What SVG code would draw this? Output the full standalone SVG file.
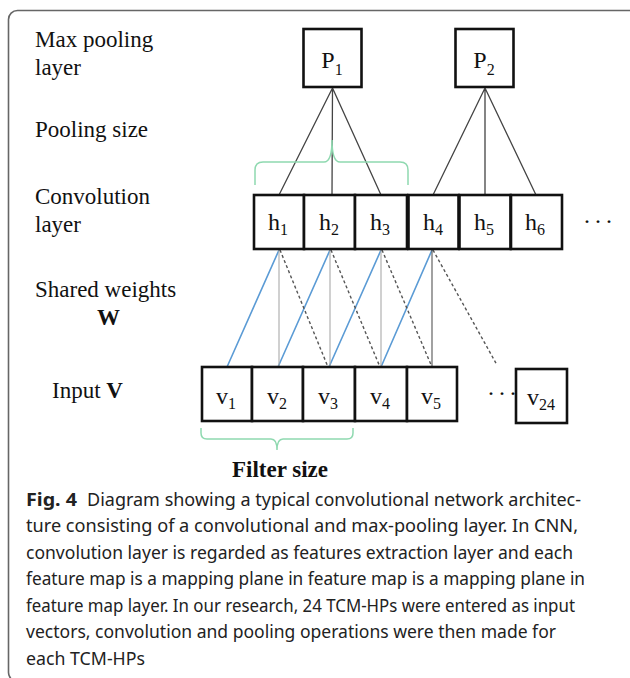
<svg xmlns="http://www.w3.org/2000/svg" width="630" height="678" viewBox="0 0 630 678">
<style>
.frame{fill:none;stroke:#666;stroke-width:1.6}
.lbl{font-family:"Liberation Serif","Times New Roman",serif;font-size:23px;fill:#111}
.bx{fill:#fff;stroke:#111;stroke-width:2.6}
.nt{font-family:"Liberation Serif","Times New Roman",serif;font-size:24px;fill:#111;text-anchor:middle}
.sub{font-size:16px}
.pool{stroke:#444;stroke-width:1.3;fill:none}
.blue{stroke:#5b9bd5;stroke-width:1.6;fill:none}
.vert{stroke:#aaa;stroke-width:1.1;fill:none}
.dash{stroke:#555;stroke-width:1.4;stroke-dasharray:3 2.5;fill:none}
.brace{stroke:#8fd9b0;stroke-width:1.5;fill:none}
.cap{font-family:"Noto Sans","Open Sans",sans-serif;font-size:17.5px;fill:#222}
.dots{font-family:"Liberation Serif",serif;font-size:24px;fill:#111;letter-spacing:3px}
</style>
<rect class="frame" x="8.5" y="10.5" width="660" height="671" rx="9"/>

<g id="labels">
<text class="lbl" x="35" y="47">Max pooling</text>
<text class="lbl" x="35" y="75">layer</text>
<text class="lbl" x="35" y="137">Pooling size</text>
<text class="lbl" x="35" y="204">Convolution</text>
<text class="lbl" x="35" y="232">layer</text>
<text class="lbl" x="35" y="297">Shared weights</text>
<text class="lbl" x="97" y="325" font-weight="bold">W</text>
<text class="lbl" x="52" y="398">Input <tspan font-weight="bold">V</tspan></text>
<text class="lbl" x="232" y="477" font-weight="bold">Filter size</text>
</g>

<g id="connectors">
<path class="pool" d="M332.5,88 L279,195 M332.5,88 L332,195 M332.5,88 L381,195"/>
<path class="pool" d="M485,88 L433,195 M485,88 L485,195 M485,88 L536,195"/>
<path class="blue" d="M279,250 L227,367 M330,250 L278,367 M381,250 L329,367 M432,250 L381,367"/>
<path class="vert" d="M279,250 L279,367 M330,250 L330,367 M381,250 L381,367"/>
<path class="vert" style="stroke:#555" d="M432,250 L432,367"/>
<path class="dash" d="M280,250 L328,367 M331,250 L380,367 M382,250 L432,367 M433,250 L497,365"/>
<path class="brace" d="M255,185 L255,170 Q255,162 263,162 L324,162 Q332,162 332,140 Q332,162 340,162 L400,162 Q408,162 408,170 L408,185"/>
<path class="brace" d="M201,428 L201,433 Q201,439 207,439 L271,439 Q277,439 277,450 Q277,439 283,439 L347,439 Q353,439 353,433 L353,428"/>
</g>

<g id="P1"><rect class="bx" x="303.5" y="29" width="58" height="58"/><text class="nt" x="332" y="68" font-size="27">P<tspan class="sub" font-size="17" dy="7">1</tspan></text></g>
<g id="P2"><rect class="bx" x="455.5" y="29" width="58" height="58"/><text class="nt" x="484" y="68" font-size="27">P<tspan class="sub" font-size="17" dy="7">2</tspan></text></g>

<g id="h1"><rect class="bx" x="254" y="195" width="50" height="54"/><text class="nt" x="278" y="230">h<tspan class="sub" dy="5">1</tspan></text></g>
<g id="h2"><rect class="bx" x="304" y="195" width="51" height="54"/><text class="nt" x="329" y="230">h<tspan class="sub" dy="5">2</tspan></text></g>
<g id="h3"><rect class="bx" x="355" y="195" width="52" height="54"/><text class="nt" x="380" y="230">h<tspan class="sub" dy="5">3</tspan></text></g>
<g id="h4"><rect class="bx" x="408.5" y="195" width="50" height="54"/><text class="nt" x="433" y="230">h<tspan class="sub" dy="5">4</tspan></text></g>
<g id="h5"><rect class="bx" x="459.5" y="195" width="51" height="54"/><text class="nt" x="484" y="230">h<tspan class="sub" dy="5">5</tspan></text></g>
<g id="h6"><rect class="bx" x="511" y="195" width="51" height="54"/><text class="nt" x="535" y="230">h<tspan class="sub" dy="5">6</tspan></text></g>
<g id="hdots"><text class="dots" x="583" y="229">···</text></g>

<g id="v1"><rect class="bx" x="202" y="367" width="50" height="54"/><text class="nt" x="226" y="404">v<tspan class="sub" dy="5">1</tspan></text></g>
<g id="v2"><rect class="bx" x="252" y="367" width="51" height="54"/><text class="nt" x="277" y="404">v<tspan class="sub" dy="5">2</tspan></text></g>
<g id="v3"><rect class="bx" x="303" y="367" width="52" height="54"/><text class="nt" x="328" y="404">v<tspan class="sub" dy="5">3</tspan></text></g>
<g id="v4"><rect class="bx" x="355" y="367" width="52" height="54"/><text class="nt" x="380" y="404">v<tspan class="sub" dy="5">4</tspan></text></g>
<g id="v5"><rect class="bx" x="407" y="367" width="50" height="54"/><text class="nt" x="431" y="404">v<tspan class="sub" dy="5">5</tspan></text></g>
<g id="vdots"><text class="dots" x="487" y="401">···</text></g>
<g id="v24"><rect class="bx" x="516" y="369" width="51" height="54"/><text class="nt" x="541" y="405">v<tspan class="sub" dy="5">24</tspan></text></g>

<g id="caption">
<text class="cap" x="26" y="505.5" font-weight="bold" textLength="51" lengthAdjust="spacingAndGlyphs">Fig. 4</text>
<text class="cap" x="87" y="505.5" textLength="494" lengthAdjust="spacingAndGlyphs">Diagram showing a typical convolutional network architec-</text>
<text class="cap" x="26" y="532" textLength="552" lengthAdjust="spacingAndGlyphs">ture consisting of a convolutional and max-pooling layer. In CNN,</text>
<text class="cap" x="26" y="558.5" textLength="547" lengthAdjust="spacingAndGlyphs">convolution layer is regarded as features extraction layer and each</text>
<text class="cap" x="26" y="585" textLength="559" lengthAdjust="spacingAndGlyphs">feature map is a mapping plane in feature map is a mapping plane in</text>
<text class="cap" x="26" y="611.5" textLength="549" lengthAdjust="spacingAndGlyphs">feature map layer. In our research, 24 TCM-HPs were entered as input</text>
<text class="cap" x="26" y="638" textLength="530" lengthAdjust="spacingAndGlyphs">vectors, convolution and pooling operations were then made for</text>
<text class="cap" x="26" y="664.5" textLength="119" lengthAdjust="spacingAndGlyphs">each TCM-HPs</text>
</g>
</svg>
